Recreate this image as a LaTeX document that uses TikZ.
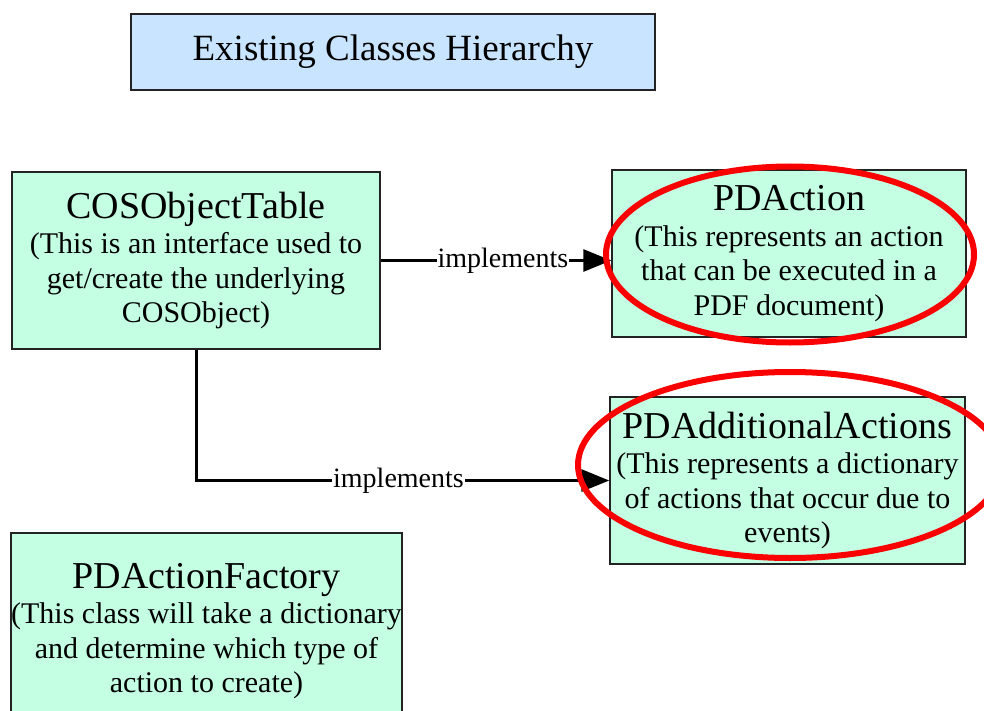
\documentclass[tikz,border=0pt]{standalone}
\usepackage{fontspec}
\setmainfont{Liberation Serif}
\usetikzlibrary{arrows.meta}
\definecolor{titleblue}{RGB}{200,228,255}
\definecolor{mint}{RGB}{196,255,228}
\definecolor{boxline}{RGB}{35,35,35}
\definecolor{markred}{RGB}{250,0,0}
\newcommand{\headfont}{\fontsize{38}{38}\selectfont}
\newcommand{\bodyfont}{\fontsize{30}{34.5}\selectfont}
\begin{document}
\begin{tikzpicture}[x=1pt,y=-1pt,
  titlebox/.style={draw=boxline, line width=1.5pt, fill=titleblue, inner sep=0pt,
    minimum width=524pt, minimum height=76pt, font=\fontsize{37}{37}\selectfont},
  classbox/.style={draw=boxline, line width=1.5pt, fill=mint, align=center, inner sep=0pt,
    font=\bodyfont},
  conn/.style={line width=3pt, -{Triangle[length=28pt,width=22pt]}},
  lbl/.style={fill=white, inner sep=1pt, font=\fontsize{28}{28}\selectfont},
  redring/.style={draw=markred, line width=6pt}
]
\useasboundingbox (0,0) rectangle (984,711);

\node[titlebox] (title) at (393,52) {Existing Classes Hierarchy};

\node[classbox, minimum width=368pt, minimum height=177pt] (cos) at (196,260.5)
  {{\headfont COSObjectTable}\\[1pt](This is an interface used to\\get/create the underlying\\COSObject)};

\node[classbox, minimum width=354pt, minimum height=167pt] (pda) at (789,253.5)
  {{\headfont PDAction}\\[1pt](This represents an action\\that can be executed in a\\PDF document)};

\node[classbox, minimum width=355pt, minimum height=167pt] (pdaa) at (787.5,480.5)
  {{\headfont PDAdditionalActions}\\[1pt](This represents a dictionary\\of actions that occur due to\\events)};

\node[classbox, minimum width=389pt, minimum height=196pt] (fac) at (206.5,631)
  {{\headfont PDActionFactory}\\[1pt](This class will take a dictionary\\and determine which type of\\action to create)};

\draw[conn] (cos.east) -- node[lbl, pos=0.53] (l1) {implements} (cos.east -| pda.west);
\draw[conn] (cos.south) -- (cos.south |- pdaa.west) -- node[lbl, pos=0.49] (l2) {implements} (pdaa.west);

\draw[redring] (790,254.5) ellipse [x radius=184pt, y radius=88pt];
\draw[redring] (790,465) ellipse [x radius=212pt, y radius=93pt];
\end{tikzpicture}
\end{document}
